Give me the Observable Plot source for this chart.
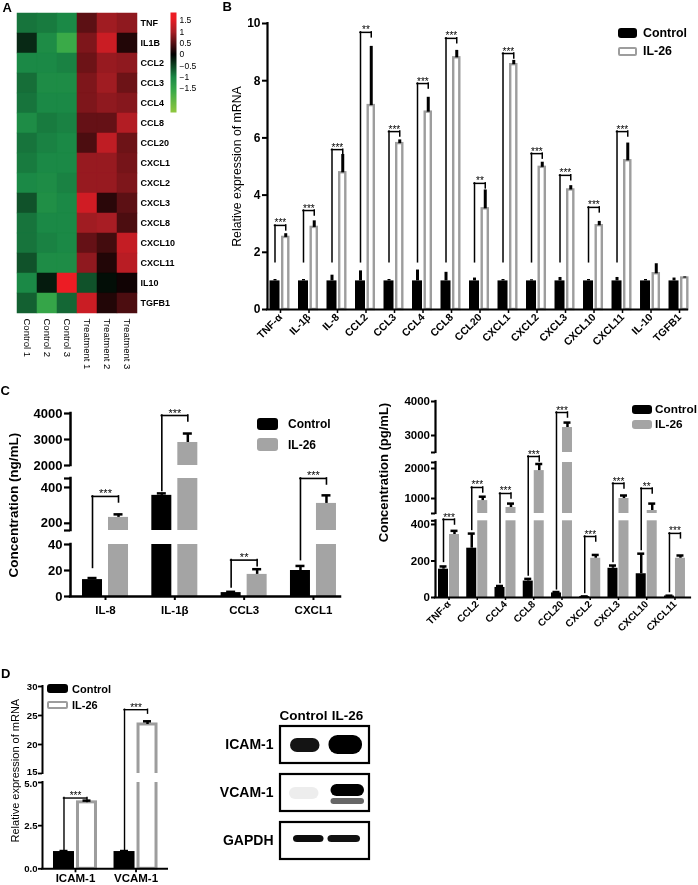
<!DOCTYPE html>
<html>
<head>
<meta charset="utf-8">
<script src="https://cdn.jsdelivr.net/npm/d3@7"></script>
<script src="https://cdn.jsdelivr.net/npm/@observablehq/plot@0.6"></script>
<style>
  html, body { margin: 0; padding: 0; background: #fff; overflow: hidden; }
  #fig { position: relative; width: 698px; height: 885px; overflow: hidden; background: #fff;
         font-family: "Liberation Sans", Arial, Helvetica, sans-serif; color: #000; }
  #fig svg { position: absolute; left: 0; top: 0; will-change: transform; }
  .t { position: absolute; white-space: nowrap; line-height: 1; transform: translateY(-50%); font-weight: bold; }
  .sw { position: absolute; box-sizing: border-box; }
  g[aria-label="blot band"] { filter: blur(1.2px); }
</style>
</head>
<body>
<div id="fig"></div>
<script>
// ================= DATA =================
// Panel A: heatmap (z-scores)
const heatGenes = ["TNF","IL1B","CCL2","CCL3","CCL4","CCL8","CCL20","CXCL1","CXCL2","CXCL3","CXCL8","CXCL10","CXCL11","IL10","TGFB1"];
const heatSamples = ["Control 1","Control 2","Control 3","Treatment 1","Treatment 2","Treatment 3"];
const heatValues = [
  [-0.85,-0.9,-1.0, 0.55,0.95,0.85],
  [-0.3,-1.05,-1.6, 0.75,1.3,0.2],
  [-1.0,-1.0,-0.95, 0.65,0.9,0.85],
  [-0.8,-1.05,-1.05, 0.75,0.95,0.65],
  [-0.85,-1.0,-1.0, 0.75,0.85,0.8],
  [-1.05,-0.9,-0.95, 0.6,0.6,1.1],
  [-0.85,-0.95,-1.0, 0.45,1.2,0.65],
  [-0.9,-1.0,-1.0, 0.9,0.9,0.7],
  [-1.0,-1.05,-0.95, 0.9,0.9,0.75],
  [-0.6,-1.1,-1.0, 1.35,0.25,0.55],
  [-0.85,-1.0,-1.0, 0.95,1.0,0.45],
  [-0.85,-0.95,-1.0, 0.6,0.4,1.25],
  [-0.6,-1.05,-1.05, 0.85,0.2,1.15],
  [-1.0,-0.2,1.75, -0.6,-0.1,0.1],
  [-0.7,-1.5,-0.75, 1.3,0.2,0.45]
];
const heatLegendTicks = [1.5, 1, 0.5, 0, -0.5, -1, -1.5];

// Legend labels
const groupNames = ["Control", "IL-26"];

// Panel B: relative mRNA expression
const bCats = ["TNF-α","IL-1β","IL-8","CCL2","CCL3","CCL4","CCL8","CCL20","CXCL1","CXCL2","CXCL3","CXCL10","CXCL11","IL-10","TGFB1"];
const bControl    = [1,1,1,1,1,1,1,1,1,1,1,1,1,1,1];
const bControlErr = [0.05,0.05,0.2,0.35,0.05,0.38,0.3,0.1,0.05,0.04,0.12,0.05,0.12,0.05,0.1];
const bIL26       = [2.52,2.87,4.78,7.13,5.8,6.9,8.8,3.52,8.56,4.97,4.18,2.93,5.2,1.25,1.1];
const bIL26Err    = [0.13,0.23,0.64,2.07,0.13,0.52,0.26,0.66,0.15,0.18,0.15,0.15,0.62,0.35,0.04];
const bSig        = ["***","***","***","**","***","***","***","**","***","***","***","***","***","",""];
const bBracket    = [2.94,3.46,5.59,9.69,6.22,7.9,9.48,4.41,8.95,5.45,4.69,3.57,6.22,null,null];
const bBracketBase = 1.65;
const bTicks = [0,2,4,6,8,10];

// Panel C left: ng/mL
const cLCats = ["IL-8","IL-1β","CCL3","CXCL1"];
const cLControl    = [13, 356, 3, 20];
const cLControlErr = [1.2, 11, 0.6, 3.5];
const cLIL26       = [233, 2885, 17, 311];
const cLIL26Err    = [17, 345, 4, 45];
const cLSig        = ["***","***","**","***"];
const cLBracket    = [350, 3923, 28, 455];
const cLBracketBase = [22, 380, 7, 28];
const cLTicks = [0, 20, 40, 200, 400, 2000, 3000, 4000];
const cLSegments = [[0, 40], [160, 450], [2000, 4000]];

// Panel C right: pg/mL
const cRCats = ["TNF-α","CCL2","CCL4","CCL8","CCL20","CXCL2","CXCL3","CXCL10","CXCL11"];
const cRControl    = [155, 270, 55, 90, 25, 5, 160, 130, 8];
const cRControlErr = [15, 80, 8, 12, 5, 1, 15, 110, 2];
const cRIL26       = [345, 930, 700, 1930, 3235, 215, 1000, 600, 215];
const cRIL26Err    = [20, 130, 130, 220, 145, 18, 100, 230, 15];
const cRSig        = ["***","***","***","***","***","***","***","**","***"];
const cRBracket    = [434, 1367, 1167, 2380, 3676, 334, 1500, 1333, 351];
const cRBracketBase = [195, 370, 80, 120, 45, 25, 195, 260, 30];
const cRTicks = [0, 200, 400, 1000, 2000, 3000, 4000];
const cRSegments = [[0, 420], [500, 2200], [2500, 4000]];

// Panel D: relative mRNA expression
const dCats = ["ICAM-1","VCAM-1"];
const dControl    = [1.0, 1.0];
const dControlErr = [0.03, 0.03];
const dIL26       = [3.85, 23.45];
const dIL26Err    = [0.1, 0.55];
const dSig        = ["***","***"];
const dBracket    = [4.1, 26.0];
const dBracketBase = [1.1, 1.1];
const dTicks = [0, 2.5, 5, 15, 20, 25, 30];
const dSegments = [[0, 5], [15, 30]];

// Western blot (relative band signal, [Control, IL-26])
const blotLanes = ["Control", "IL-26"];
const blotProteins = ["ICAM-1", "VCAM-1", "GAPDH"];
const blotICAM1 = [0.92, 1.0];
const blotVCAM1 = [0.07, 1.0];
const blotVCAM1Lower = [0.03, 0.6];
const blotGAPDH = [0.95, 0.93];

// ================= HELPERS =================
const FONT = '"Liberation Sans", Arial, Helvetica, sans-serif';
const W = 698, H = 885;
const GRAY = "#a4a4a4";
const OUTLINE = "#9d9d9d";
const fig = document.getElementById("fig");

const heatColor = {
  type: "linear",
  domain: [-2.5, -1.6, -1, 0, 1, 1.6],
  range: ["#8dc63f", "#3aaa48", "#1b8946", "#000000", "#a81d24", "#ec1c24"],
  interpolate: "rgb", clamp: true
};

function plot(opts) {
  return Plot.plot({
    width: W, height: H,
    style: {fontFamily: FONT, fontSize: "10px", background: "transparent", overflow: "visible", maxWidth: "none", color: "#000"},
    ...opts
  });
}
function add(el) { fig.appendChild(el); return el; }
function txt(s, x, y, size, weight = "bold") {
  const el = document.createElement("div");
  el.className = "t"; el.textContent = s;
  Object.assign(el.style, {left: x + "px", top: y + "px", fontSize: size + "px", fontWeight: weight});
  fig.appendChild(el);
}
function sw(x, y, w, h, kind, radius = 3) {
  const el = document.createElement("div"); el.className = "sw";
  Object.assign(el.style, {left: x + "px", top: y + "px", width: w + "px", height: h + "px", borderRadius: radius + "px"});
  if (kind === "black") el.style.background = "#000";
  else if (kind === "gray") el.style.background = GRAY;
  else { el.style.background = "#fff"; el.style.border = `2.5px solid ${OUTLINE}`; }
  fig.appendChild(el);
}

// Grouped bar chart with optional broken (segmented) value axis.
function groupedChart(c) {
  const pxU = (W - c.frame.l - c.frame.r) / (c.xDomain[1] - c.xDomain[0]);
  const u = px => px / pxU;
  const x0 = c.xDomain[0];
  // piecewise value scale: each axis segment gets its own linear stretch
  const ys = d3.scaleLinear(c.yDomain, c.yRange);
  const broken = c.segments.length > 1;
  const yOpt = broken ? {type: "identity", transform: v => ys(v), axis: null} : {domain: c.yDomain, range: c.yRange, axis: null};
  const rows = c.cats.map((cat, i) => ({
    i, cat,
    ctrl: c.ctrl[i], ctrlTop: c.ctrl[i] + c.ctrlErr[i],
    il: c.il[i], ilTop: c.il[i] + c.ilErr[i],
    sig: c.sig[i], br: c.br[i],
    base: Array.isArray(c.base) ? c.base[i] : c.base
  }));
  const sigRows = rows.filter(d => d.sig);
  const cC = (c.geom.ctrl[0] + c.geom.ctrl[1]) / 2;
  const iC = (c.geom.il[0] + c.geom.il[1]) / 2;
  const marks = [];
  marks.push(Plot.rect(rows, {x1: d => d.i + u(c.geom.ctrl[0]), x2: d => d.i + u(c.geom.ctrl[1]), y1: 0, y2: "ctrl", fill: "#000"}));
  if (c.ilOutline) {
    const h = c.outlineW / 2;
    marks.push(Plot.rect(rows, {x1: d => d.i + u(c.geom.il[0] + h), x2: d => d.i + u(c.geom.il[1] - h), y1: 0, y2: "il",
      fill: "white", stroke: OUTLINE, strokeWidth: c.outlineW}));
  } else {
    marks.push(Plot.rect(rows, {x1: d => d.i + u(c.geom.il[0]), x2: d => d.i + u(c.geom.il[1]), y1: 0, y2: "il", fill: GRAY}));
  }
  marks.push(Plot.ruleX(rows, {x: d => d.i + u(cC), y1: "ctrl", y2: "ctrlTop", strokeWidth: c.errW}));
  marks.push(Plot.ruleX(rows, {x: d => d.i + u(iC), y1: "il", y2: "ilTop", strokeWidth: c.errW}));
  if (c.capPx) {
    marks.push(Plot.ruleY(rows, {y: "ctrlTop", x1: d => d.i + u(cC - c.capPx), x2: d => d.i + u(cC + c.capPx), strokeWidth: c.errW}));
    marks.push(Plot.ruleY(rows, {y: "ilTop", x1: d => d.i + u(iC - c.capPx), x2: d => d.i + u(iC + c.capPx), strokeWidth: c.errW}));
  }
  const gaps = c.segments.slice(1).map((s, k) => [c.segments[k][1], s[0]]);
  if (gaps.length) marks.push(Plot.rect(gaps, {x1: x0, x2: c.xDomain[1], y1: d => d[0], y2: d => d[1], fill: "white"}));
  // axis lines
  marks.push(Plot.ruleX(c.segments, {x: x0, y1: d => d[0], y2: d => d[1], strokeWidth: c.axisW, strokeLinecap: "square"}));
  marks.push(Plot.ruleY([0], {strokeWidth: c.axisW, strokeLinecap: "square"}));
  // y ticks (labelled ticks + unlabelled segment end caps)
  const caps = c.segments.flat().filter(v => !c.ticks.includes(v));
  marks.push(Plot.ruleY([...c.ticks, ...caps], {y: d => d, x1: x0 - u(c.tickSize), x2: x0, strokeWidth: c.tickW}));
  // tick labels; labels that sit at a tight axis break are nudged apart slightly
  const nudge = c.tickNudge || {};
  const groups = d3.group(c.ticks, d => nudge[d] || 0);
  for (const [ddy, vals] of groups) {
    marks.push(Plot.text(vals, {y: d => d, x: x0, dx: -(c.tickSize + c.tickPad), dy: ddy, textAnchor: "end",
      text: d => c.tickFmt(d), fontSize: c.tickFont, fontWeight: "bold"}));
  }
  // x axis
  marks.push(Plot.axisX({ticks: rows.map(d => d.i), tickFormat: i => c.cats[i], tickRotate: c.xRotate,
    tickSize: c.xTickSize, tickPadding: c.xPad, strokeWidth: c.xTickW, fontSize: c.xFont, fontWeight: "bold", label: null}));
  // significance brackets
  marks.push(Plot.ruleX(sigRows, {x: d => d.i + u(cC), y1: "base", y2: "br", strokeWidth: c.brW, strokeLinecap: "square"}));
  marks.push(Plot.ruleY(sigRows, {y: "br", x1: d => d.i + u(cC), x2: d => d.i + u(iC), strokeWidth: c.brW, strokeLinecap: "square"}));
  marks.push(Plot.ruleX(sigRows, {x: d => d.i + u(iC), y1: "br", y2: d => ys.invert(ys(d.br) + c.dropPx), strokeWidth: c.brW, strokeLinecap: "square"}));
  marks.push(Plot.text(sigRows, {x: d => d.i + u((cC + iC) / 2), y: "br", text: "sig", lineAnchor: "bottom", dy: c.starDy,
    fontSize: c.starSize, fontWeight: "normal", fill: "#000"}));
  // y label
  marks.push(Plot.text([c.yLabel.text], {text: d => d, frameAnchor: "left", dx: c.yLabel.dx, dy: c.yLabel.dy, rotate: -90,
    textAnchor: "middle", fontSize: c.yLabel.size, fontWeight: c.yLabel.weight}));
  const svg = plot({
    marginLeft: c.frame.l, marginRight: c.frame.r, marginTop: c.frame.t, marginBottom: c.frame.b,
    x: {domain: c.xDomain, axis: null},
    y: yOpt,
    marks
  });
  svg.style.filter = "grayscale(1)";
  return svg;
}

// ================= PANEL A =================
const heatCells = heatGenes.flatMap((gene, r) => heatSamples.map((sample, k) => ({gene, sample, v: heatValues[r][k]})));
add(plot({
  marginLeft: 16, marginRight: W - 137, marginTop: 12, marginBottom: H - 313,
  x: {domain: heatSamples, padding: 0},
  y: {domain: heatGenes, padding: 0},
  color: heatColor,
  marks: [
    Plot.cell(heatCells, {x: "sample", y: "gene", fill: "v", stroke: "v", strokeWidth: 0.5, inset: 0}),
    Plot.axisY({anchor: "right", tickSize: 0, tickPadding: 3, fontSize: 9, fontWeight: "bold", label: null}),
    Plot.axisX({anchor: "bottom", tickSize: 0, tickPadding: 5, tickRotate: 90, fontSize: 9.5, label: null})
  ]
}));

const cbLo = -2.55, cbHi = 1.85;
add(plot({
  marginLeft: 170, marginRight: W - 176, marginTop: 12, marginBottom: H - 112,
  x: {domain: [0, 1], axis: null},
  y: {domain: [cbLo, cbHi]},
  color: heatColor,
  marks: [
    typeof Plot.raster === "function"
      ? Plot.raster({x1: 0, x2: 1, y1: cbLo, y2: cbHi, fill: (x, y) => y, imageRendering: "auto"})
      : Plot.cell(heatLegendTicks, {y: d => d, fill: d => d}),
    Plot.axisY({anchor: "right", ticks: heatLegendTicks, tickSize: 0, tickPadding: 3,
      tickFormat: d => (d < 0 ? "\u2212" : "") + Math.abs(d), fontSize: 8.5, label: null})
  ]
}));

// ================= PANEL B =================
add(groupedChart({
  cats: bCats, ctrl: bControl, ctrlErr: bControlErr, il: bIL26, ilErr: bIL26Err, sig: bSig, br: bBracket, base: bBracketBase,
  frame: {l: 267, r: 11, t: 23, b: H - 309}, xDomain: [-0.456, 14.28],
  yDomain: [0, 10], yRange: [309, 23], segments: [[0, 10]], ticks: bTicks, tickFmt: d => String(d),
  geom: {ctrl: [-10.5, -0.5], il: [1, 9.5]}, ilOutline: true, outlineW: 2.4, errW: 3, capPx: 0,
  axisW: 2.2, tickW: 2, tickSize: 5, tickPad: 2, tickFont: 12,
  xRotate: -45, xTickSize: 4, xTickW: 1.5, xPad: 2, xFont: 10.5,
  brW: 1.5, dropPx: 5, starSize: 10, starDy: 1,
  yLabel: {text: "Relative expression of mRNA", dx: -30, dy: 0, size: 12.3, weight: "normal"}
}));

// ================= PANEL C =================
add(groupedChart({
  cats: cLCats, ctrl: cLControl, ctrlErr: cLControlErr, il: cLIL26, ilErr: cLIL26Err, sig: cLSig, br: cLBracket, base: cLBracketBase,
  frame: {l: 70, r: W - 340, t: 413, b: H - 596}, xDomain: [-0.505, 3.39],
  yDomain: [0, 40, 160, 450, 2000, 4000], yRange: [596, 544, 530, 478, 465, 413],
  segments: cLSegments, ticks: cLTicks, tickFmt: d => String(d),
  geom: {ctrl: [-23, -3], il: [3, 23]}, ilOutline: false, errW: 2.5, capPx: 4.5,
  axisW: 2.5, tickW: 2.2, tickSize: 6, tickPad: 2, tickFont: 13,
  xRotate: 0, xTickSize: 4, xTickW: 2, xPad: 5, xFont: 11.5,
  brW: 1.6, dropPx: 6, starSize: 11, starDy: 1,
  yLabel: {text: "Concentration (ng/mL)", dx: -57, dy: 0, size: 13.5, weight: "bold"}
}));

add(groupedChart({
  cats: cRCats, ctrl: cRControl, ctrlErr: cRControlErr, il: cRIL26, ilErr: cRIL26Err, sig: cRSig, br: cRBracket, base: cRBracketBase,
  frame: {l: 435, r: 8, t: 401, b: H - 597}, xDomain: [-0.478, 8.55],
  yDomain: [0, 420, 500, 2200, 2500, 4000], yRange: [597, 520.3, 513, 462, 452, 401],
  segments: cRSegments, ticks: cRTicks, tickFmt: d => String(d),
  geom: {ctrl: [-10.5, -0.5], il: [0.5, 10.5]}, ilOutline: false, errW: 2.5, capPx: 3.5,
  axisW: 2.2, tickW: 2, tickSize: 4, tickPad: 1.5, tickFont: 11.5,
  xRotate: -45, xTickSize: 3, xTickW: 1.5, xPad: 2, xFont: 10,
  brW: 1.5, dropPx: 5, starSize: 10, starDy: 1,
  yLabel: {text: "Concentration (pg/mL)", dx: -52, dy: -27, size: 13, weight: "bold"}
}));

// ================= PANEL D =================
add(groupedChart({
  cats: dCats, ctrl: dControl, ctrlErr: dControlErr, il: dIL26, ilErr: dIL26Err, sig: dSig, br: dBracket, base: dBracketBase,
  frame: {l: 42, r: W - 167, t: 686, b: H - 868.3}, xDomain: [-0.545, 1.52],
  yDomain: [0, 5, 15, 30], yRange: [868.3, 782, 773, 686],
  segments: dSegments, ticks: dTicks, tickFmt: d => d <= 5 ? d.toFixed(1) : String(d),
  tickNudge: {15: -1.6, 5: 1.6},
  geom: {ctrl: [-22, -1], il: [1, 22]}, ilOutline: true, outlineW: 3, errW: 2.5, capPx: 4,
  axisW: 2, tickW: 1.8, tickSize: 4, tickPad: 1, tickFont: 9.6,
  xRotate: 0, xTickSize: 4, xTickW: 1.8, xPad: 1, xFont: 11.5,
  brW: 1.4, dropPx: 4, starSize: 10, starDy: 1,
  yLabel: {text: "Relative expression of mRNA", dx: -27, dy: -7, size: 11, weight: "normal"}
}));

// Western blot
const bandRows = (protein, arr) => blotLanes.map((lane, j) => ({protein, lane, s: arr[j]}));
function band(protein, arr, lane, ins) {
  return Plot.cell(bandRows(protein, arr).filter(d => d.lane === lane), {
    x: "lane", y: "protein", fill: "black", fillOpacity: "s",
    insetTop: ins[0], insetRight: ins[1], insetBottom: ins[2], insetLeft: ins[3], rx: ins[4], ariaLabel: "blot band"
  });
}
add(plot({
  marginLeft: 280, marginRight: W - 369, marginTop: 725, marginBottom: H - 861,
  x: {domain: blotLanes, padding: 0},
  y: {domain: blotProteins, paddingInner: 0.224, paddingOuter: 0},
  opacity: {domain: [0, 1], range: [0, 1]},
  marks: [
    Plot.cell(blotProteins, {y: d => d, fill: "white", stroke: "black", strokeWidth: 2.2}),
    band("ICAM-1", blotICAM1, "Control", [12, 5.5, 11, 9, 7]),
    band("ICAM-1", blotICAM1, "IL-26", [9, 7, 9, 3.5, 9]),
    band("VCAM-1", blotVCAM1, "Control", [13, 6.5, 12, 8, 6]),
    band("VCAM-1", blotVCAM1, "IL-26", [10, 5, 15, 5.5, 6]),
    band("VCAM-1", blotVCAM1Lower, "IL-26", [24, 5, 7, 5.5, 3]),
    band("GAPDH", blotGAPDH, "Control", [13, 1.5, 17, 12, 4]),
    band("GAPDH", blotGAPDH, "IL-26", [13, 9, 17, 2.5, 4]),
    Plot.axisX({anchor: "top", tickSize: 0, tickPadding: 6, fontSize: 13.5, fontWeight: "bold", label: null}),
    Plot.axisY({anchor: "left", tickSize: 0, tickPadding: 7, fontSize: 14, fontWeight: "bold", label: null})
  ]
}));

// ================= HTML LABELS & LEGENDS =================
txt("A", 2.5, 7, 13);
txt("B", 222.5, 6, 13);
txt("C", 0.5, 390, 13);
txt("D", 1, 673, 13);

// B legend
sw(618, 28, 19, 10, "black");
txt(groupNames[0], 643, 33.3, 12.4);
sw(618, 46.5, 19, 9, "outline", 2);
txt(groupNames[1], 643, 50.7, 12.4);

// C left legend
sw(257, 418, 21, 12, "black");
txt(groupNames[0], 288, 424, 12);
sw(257, 438, 21, 13, "gray");
txt(groupNames[1], 288, 444.5, 12);

// C right legend
sw(632, 405, 20, 9, "black");
txt(groupNames[0], 655, 409.5, 11.8);
sw(632, 420, 20, 9, "gray");
txt(groupNames[1], 655, 424.5, 11.8);

// D legend
sw(47, 684, 21, 9, "black");
txt(groupNames[0], 72, 689, 11);
sw(47, 701, 21, 8, "outline", 2);
txt(groupNames[1], 72, 705, 11);
</script>
</body>
</html>
